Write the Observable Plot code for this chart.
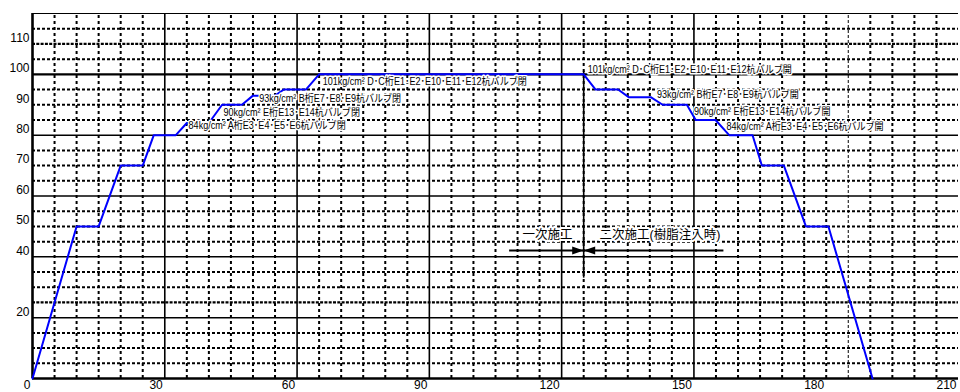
<!DOCTYPE html>
<html><head><meta charset="utf-8">
<script src="https://cdn.jsdelivr.net/npm/d3@7"></script>
<script src="https://cdn.jsdelivr.net/npm/@observablehq/plot@0.6"></script>
<style>body{margin:0;background:#fff} svg{display:block}</style>
</head><body><div id="chart"></div>
<script>
// ---- data ----
const timeX = [0,10,15,20,25,27.5,32.5,35,40,43,47.5,50,55,57,62,65,125,127.7,132.8,135.2,140.2,142.9,148.4,150.4,154.9,158,163.3,165.4,170.4,175.4,180.5,190.5];
const pressure = [0,50,50,70,70,80,80,84,84,90,90,93,93,95,95,100,100,95,95,92.5,92.5,90,90,85,85,80,80,70,70,50,50,0];
const xTicks = [0,30,60,90,120,150,180,210];
const yTicks = [20,40,50,60,70,80,90,100,110];
const xMajor = [30,60,90,120,150];
const yMajor = [20,40,60,80];
const annText = [
  "84kg/cm² A桁E3･E4･E5･E6杭バルブ閉",
  "90kg/cm² E桁E13･E14杭バルブ閉",
  "93kg/cm² B桁E7･E8･E9杭バルブ閉",
  "101kg/cm² D･C桁E1･E2･E10･E11･E12杭バルブ閉",
  "101kg/cm² D･C桁E1･E2･E10･E11･E12杭バルブ開",
  "93kg/cm² B桁E7･E8･E9杭バルブ開",
  "90kg/cm² E桁E13･E14杭バルブ開",
  "84kg/cm² A桁E3･E4･E5･E6杭バルブ開"
];
const annX = [35.4,43.3,51.4,65.8,125.9,141.6,150,157.4];
const annY = [83.2,87.4,92,97.7,101.5,93.3,87.6,82.7];
const phaseText = ["一次施工","二次施工(樹脂注入時)"];
const phaseX = [116.8,142.3];
const phaseY = [47.2,47.2];
const dividerX = 125;
const dividerY = [33,101];
const arrowX = [108.2,156.8];
const arrowY = 42.1;

// ---- tables ----
const series = timeX.map((x,i)=>({x, y: pressure[i]}));
const anns = annText.map((t,i)=>({t, x: annX[i], y: annY[i]}));
const phases = phaseText.map((t,i)=>({t, x: phaseX[i], y: phaseY[i]}));
const xMinor = d3.range(5,210,5).filter(v=>!xMajor.includes(v) && v!==185);
const yMinor = d3.range(5,120,5).filter(v=>!yMajor.includes(v) && v!==100);
const yDense = [25,110];

const tri = dir => ({draw(ctx){ ctx.moveTo(0,0); ctx.lineTo(-dir*11.5,-4); ctx.lineTo(-dir*11.5,4); ctx.closePath(); }});

const LAT = "Liberation Sans, Arial, sans-serif";
const JP = "Liberation Sans, 'Noto Sans CJK JP', sans-serif";

const chart = Plot.plot({
  width: 960, height: 392,
  marginLeft: 32, marginRight: 2, marginTop: 13, marginBottom: 14,
  x: {domain: [0,210], axis: null},
  y: {domain: [0,120], axis: null},
  style: {background: "#fff", color: "#000"},
  marks: [
    Plot.ruleX(xMinor, {y1: 0, y2: 120, stroke: "#000", strokeWidth: 2, strokeDasharray: "3,3"}),
    Plot.ruleX([185], {y1: 0, y2: 120, stroke: "#000", strokeWidth: 1, strokeDasharray: "3,2"}),
    Plot.ruleY(yMinor.filter(v=>!yDense.includes(v)), {x1: 0, x2: 210, stroke: "#000", strokeWidth: 2, strokeDasharray: "3,2"}),
    Plot.ruleY(yDense, {x1: 0, x2: 210, stroke: "#000", strokeWidth: 2.2, strokeDasharray: "3,1.3"}),
    Plot.ruleX(xMajor, {y1: 0, y2: 120, stroke: "#000", strokeWidth: 1.6}),
    Plot.ruleY(yMajor, {x1: 0, x2: 210, stroke: "#000", strokeWidth: 1.5}),
    Plot.ruleY([100], {x1: 0, x2: 210, stroke: "#000", strokeWidth: 2.2}),
    Plot.ruleY([120], {x1: 0, x2: 210, stroke: "#000", strokeWidth: 1.2}),
    Plot.ruleY([0], {x1: 0, x2: 210, stroke: "#000", strokeWidth: 2.5}),
    Plot.ruleX([0], {y1: 0, y2: 120, stroke: "#000", strokeWidth: 2.6}),
    Plot.ruleX([dividerX], {y1: dividerY[0], y2: dividerY[1], stroke: "#000", strokeWidth: 1.6}),
    Plot.line(series, {x: "x", y: "y", stroke: "#0000ff", strokeWidth: 2}),
    Plot.text(phases, {x: "x", y: "y", text: "t", textAnchor: "middle", fontSize: 12.5, fontFamily: JP, fill: "#000", stroke: "#fff", strokeWidth: 4}),
    Plot.ruleY([arrowY], {x1: arrowX[0], x2: arrowX[1], stroke: "#000", strokeWidth: 2}),
    Plot.dot([{x: dividerX, y: arrowY}], {x: "x", y: "y", symbol: tri(1), fill: "#000", stroke: "none"}),
    Plot.dot([{x: dividerX, y: arrowY}], {x: "x", y: "y", symbol: tri(-1), fill: "#000", stroke: "none"}),
    Plot.text(anns, {x: "x", y: "y", text: "t", textAnchor: "start", fontSize: 10.5, fontFamily: JP, fill: "#000", stroke: "#fff", strokeWidth: 3}),
    Plot.axisX(xTicks, {tickSize: 0, tickPadding: 2, textAnchor: "end", dx: -2, fontSize: 12, fontFamily: LAT, label: null, fill: "#000"}),
    Plot.axisY(yTicks, {tickSize: 0, tickPadding: 3, dy: -6, fontSize: 12, fontFamily: LAT, label: null, fill: "#000"})
  ]
});
document.getElementById("chart").appendChild(chart);
// condense annotation glyphs horizontally, like the narrow original face
chart.querySelectorAll('g[font-size="10.5"] text').forEach(t => {
  const len = t.getComputedTextLength();
  t.setAttribute("textLength", (len * 0.86).toFixed(1));
  t.setAttribute("lengthAdjust", "spacingAndGlyphs");
});
</script>
</body></html>
